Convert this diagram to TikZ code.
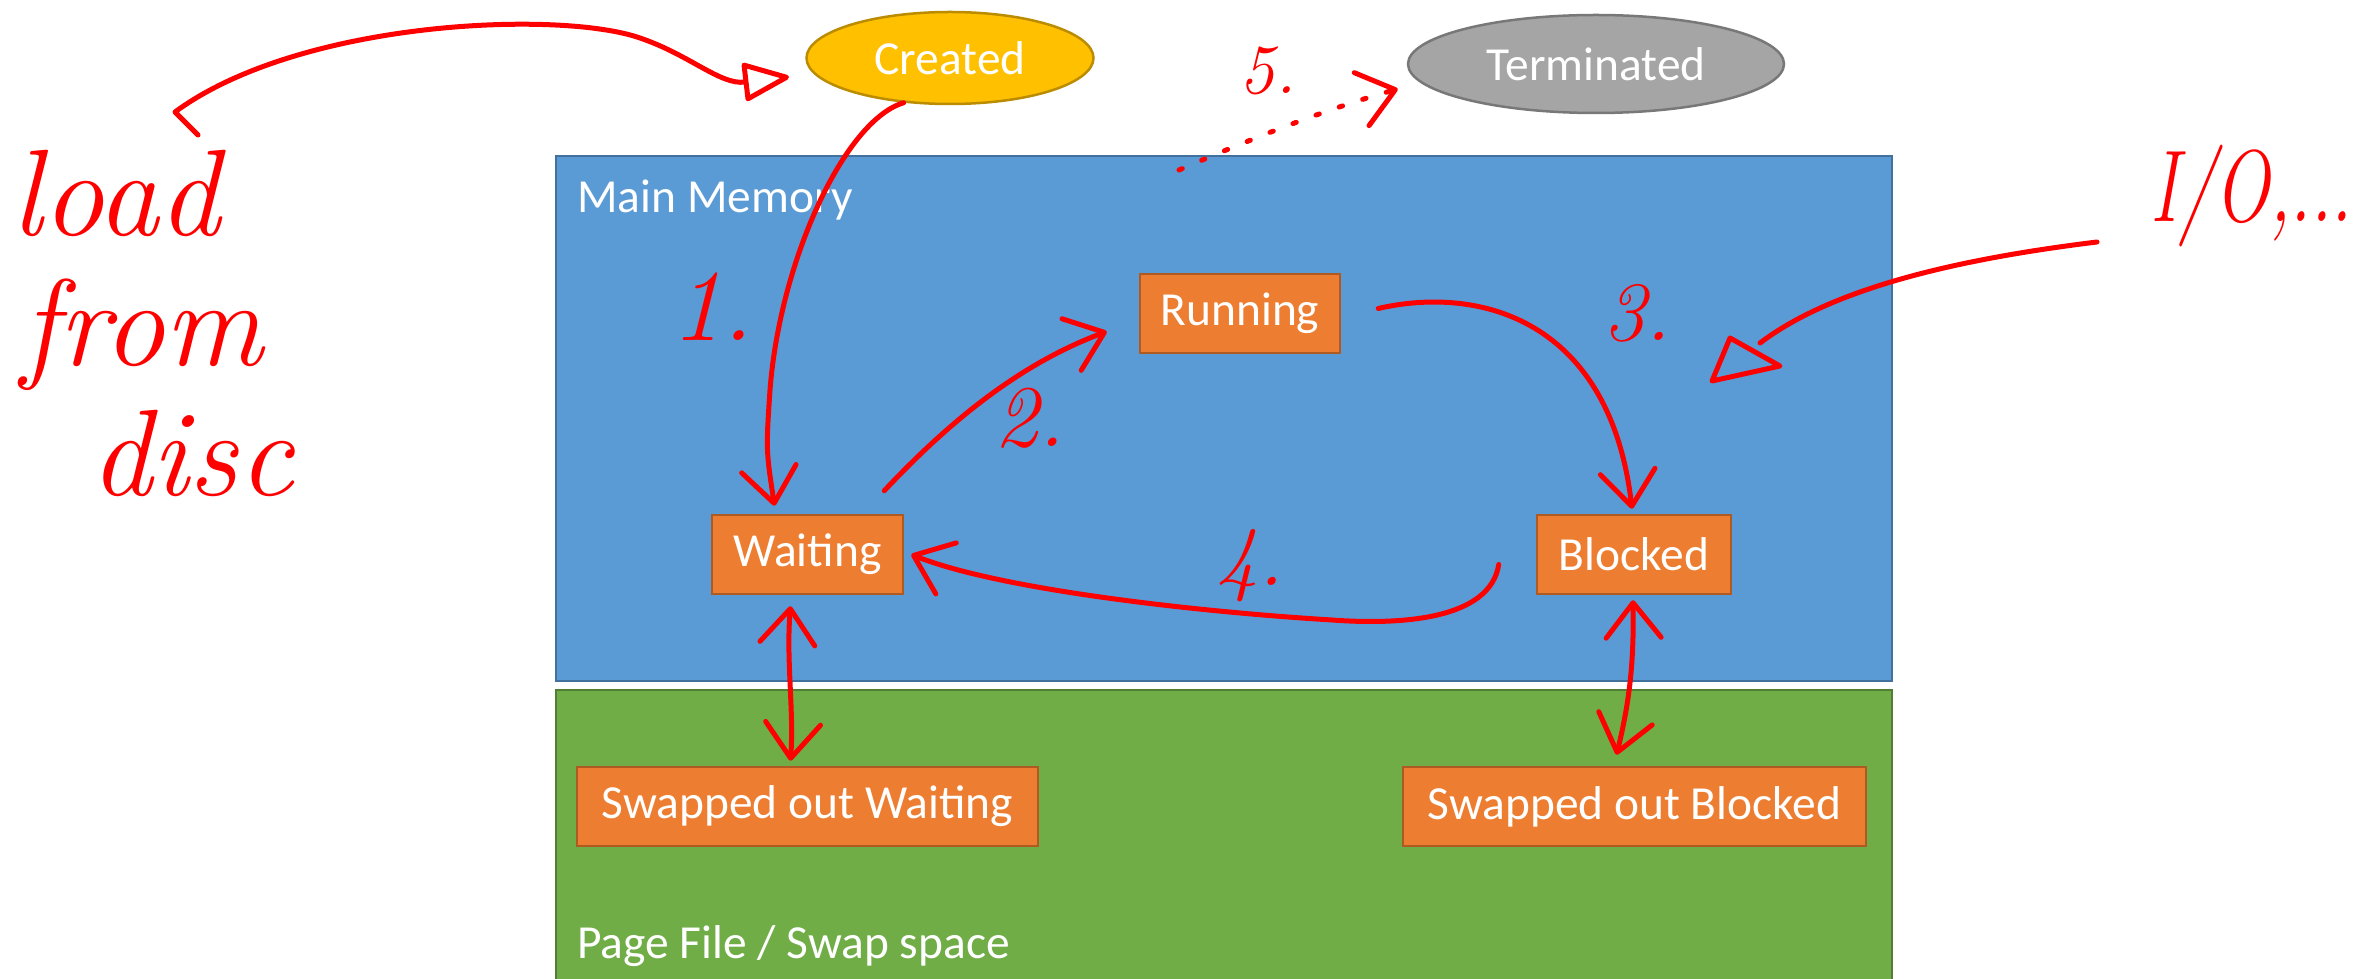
\documentclass[tikz,border=0pt]{standalone}
\usepackage{fontspec}
\setsansfont{Carlito}
\usetikzlibrary{shapes.geometric,arrows.meta,calc}
\definecolor{mblue}{HTML}{5B9BD5}
\definecolor{mblueb}{HTML}{41719C}
\definecolor{mgreen}{HTML}{70AD47}
\definecolor{mgreenb}{HTML}{507E32}
\definecolor{morange}{HTML}{ED7D31}
\definecolor{morangeb}{HTML}{AE5A21}
\definecolor{mgold}{HTML}{FFC000}
\definecolor{mgoldb}{HTML}{BC8C00}
\definecolor{mgray}{HTML}{A5A5A5}
\definecolor{mgrayb}{HTML}{787878}
\definecolor{inkred}{HTML}{FF0000}
\tikzset{
  boxfont/.style={font=\sffamily\fontsize{27}{32}\selectfont, text=white},
  statebox/.style={rectangle, draw=morangeb, fill=morange, line width=0.5mm, inner sep=0pt, minimum height=15.8mm, boxfont},
  stateoval/.style={ellipse, line width=0.5mm, inner sep=0pt, boxfont},
  regionlbl/.style={inner sep=0pt, boxfont},
  ink/.style={draw=inkred, line width=1mm, line cap=round, line join=round},
  barb/.style={-{Straight Barb[length=7mm,width=11mm,round]}},
  dbarb/.style={{Straight Barb[length=7mm,width=11mm,round]}-{Straight Barb[length=7mm,width=11mm,round]}},
  tri/.style={-{Triangle[open,length=10mm,width=8mm,round]}},
  hand/.style={text=inkred, inner sep=0pt, font=\itshape\fontsize{#1}{#1}\selectfont},
}
\begin{document}
\begin{tikzpicture}[x=0.2mm,y=-0.2mm]
\clip (0,0) rectangle (2377,979);
\fill[white] (0,0) rectangle (2377,979);
% regions
\draw[fill=mblue, draw=mblueb, line width=0.5mm] (556,156) rectangle (1892,681);
\draw[fill=mgreen, draw=mgreenb, line width=0.5mm] (556,690) rectangle (1892,995);
\node[regionlbl, anchor=base west] (mmlbl) at (577,213) {Main Memory};
\node[regionlbl, anchor=base west] (pflbl) at (577,958) {Page File / Swap space};
% states
\node[stateoval, fill=mgold, draw=mgoldb, minimum width=57.4mm, minimum height=18.4mm] (created) at (950,58) {Created};
\node[stateoval, fill=mgray, draw=mgrayb, minimum width=75.2mm, minimum height=19.6mm] (terminated) at (1596,64) {Terminated};
\node[statebox, minimum width=40mm] (running) at (1240,313.5) {Running};
\node[statebox, minimum width=38.2mm] (waiting) at (807.5,554.5) {Waiting};
\node[statebox, minimum width=38.8mm] (blocked) at (1634,554.5) {Blocked};
\node[statebox, minimum width=92.2mm] (sow) at (807.5,806.5) {Swapped out Waiting};
\node[statebox, minimum width=92.6mm] (sob) at (1634.5,806.5) {Swapped out Blocked};
% handwriting
\node[hand=70, anchor=north west, align=left] (loadtxt) at (11,150) {load\\[4pt]\hspace*{6pt}from\\[4pt]\hspace*{45pt}disc};
\node[hand=58, anchor=base west] (iotxt) at (2150,222) {\scalebox{0.72}[1]{I/O,\kern-2pt.\kern-1pt.\kern-1pt.}};
\node[hand=58] (n1) at (712,307) {1.};
\node[hand=50] (n2) at (1030,418) {2.};
\node[hand=48] (n3) at (1637,313) {3.};
\node[hand=48] (n4) at (1250,566) {4.};
\node[hand=40] (n5) at (1268,71) {5.};
\coordinate (t5) at (1179,170);
% connectors
\draw[ink, tri] (198,135) -- (175,112) .. controls (300,20) and (560,10) .. (640,38) .. controls (690,55) and (720,85) .. (789,77);
\draw[ink, barb] (created.224) .. controls (845,120) and (780,260) .. (770,390) .. controls (766,450) .. ($(waiting.north)+(-33,-8)$);
\draw[ink, barb] ($(waiting.north east)+(-20,-23)$) .. controls (960,410) and (1030,360) .. ($(running.west)+(-32,18)$);
\draw[ink, barb] ($(running.east)+(37,-5)$) .. controls (1480,285) and (1610,320) .. ($(blocked.north)+(-2,-5)$);
\draw[ink, barb] ($(blocked.west)+(-37,10)$) .. controls (1490,620) and (1400,625) .. (1332,620) .. controls (1200,612) and (1000,590) .. ($(waiting.east)+(7,0)$);
\draw[ink, dbarb] ($(waiting.south)+(-17,11)$) .. controls (786,660) and (794,710) .. ($(sow.north)+(-17,-5)$);
\draw[ink, dbarb] ($(blocked.south)+(-1,5)$) .. controls (1634,660) and (1630,700) .. ($(sob.north)+(-18,-11)$);
\draw[ink, barb, dash pattern=on 2pt off 12pt] (t5) .. controls (1260,135) and (1330,108) .. ($(terminated.west)+(-9,25)$);
\draw[ink] ($(iotxt.base west)+(-53,20)$) .. controls (1950,260) and (1830,290) .. (1760,343)
  (1730,338) -- (1780,366) -- (1712,381) -- cycle;
\end{tikzpicture}
\end{document}
